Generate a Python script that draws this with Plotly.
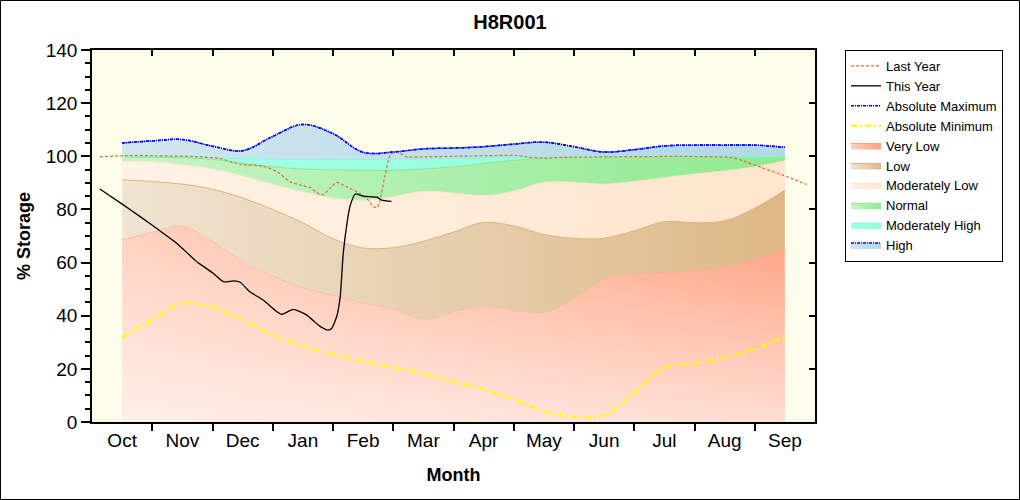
import plotly.graph_objects as go

# ---------------- data ----------------
months = ['Oct', 'Nov', 'Dec', 'Jan', 'Feb', 'Mar', 'Apr', 'May', 'Jun', 'Jul', 'Aug', 'Sep']

# time in months since start of water year (Oct 1 = 0)
band_t = [0.5, 1.0, 1.5, 2.0, 2.5, 3.0, 3.5, 4.0, 4.5, 5.0, 5.5, 6.0,
          6.5, 7.0, 7.5, 8.0, 8.5, 9.0, 9.5, 10.0, 10.5, 11.0, 11.5]

very_low = [68.7, 71.5, 73.8, 68.0, 60.5, 55.0, 50.5, 47.8, 44.8, 42.5, 38.7, 41.5,
            43.7, 42.2, 41.2, 46.5, 54.0, 55.8, 56.4, 56.9, 58.3, 61.5, 65.4]
low = [91.1, 90.5, 89.5, 87.6, 84.3, 80.0, 75.0, 69.0, 65.5, 65.6, 68.0, 71.5,
       75.1, 73.8, 70.6, 69.1, 69.2, 72.0, 75.4, 75.0, 75.7, 80.5, 87.3]
mod_low = [98.2, 98.0, 96.9, 95.3, 92.6, 89.5, 86.7, 84.3, 83.5, 84.8, 86.8, 86.2,
           85.2, 86.8, 90.2, 90.2, 89.5, 90.5, 91.9, 93.3, 94.5, 96.0, 98.3]
normal = [99.8, 99.6, 99.4, 98.9, 97.3, 96.0, 95.2, 94.9, 94.8, 94.7, 95.2, 96.0,
          97.3, 98.5, 99.2, 99.4, 99.5, 99.6, 99.8, 99.8, 99.8, 99.8, 99.8]
mod_high = [100.0, 99.9, 99.8, 99.4, 99.1, 98.9, 98.8, 98.8, 98.8, 98.9, 99.0, 99.2,
            99.4, 99.5, 99.6, 99.7, 99.8, 99.8, 99.9, 99.9, 99.9, 99.9, 99.9]
abs_max = [105.0, 105.8, 106.3, 103.8, 102.1, 107.5, 112.0, 108.5, 101.5, 101.6, 102.8, 103.1,
           103.6, 104.6, 105.3, 103.6, 101.6, 102.5, 103.9, 104.2, 104.2, 104.2, 103.4]
abs_min = [31.9, 38.5, 44.6, 43.2, 38.4, 33.0, 28.5, 25.4, 22.8, 20.6, 18.1, 15.3,
           12.3, 8.6, 4.0, 2.0, 2.6, 11.0, 20.4, 22.1, 24.3, 27.5, 32.1]

this_year_t = [0.13, 0.52, 0.80, 1.07, 1.41, 1.74, 2.01, 2.18, 2.35, 2.46, 2.62, 2.84,
               3.07, 3.15, 3.34, 3.56, 3.78, 3.92, 3.98, 4.06, 4.12, 4.17, 4.24, 4.28,
               4.37, 4.50, 4.73, 4.81, 4.97]
this_year = [87.7, 81.7, 77.3, 72.9, 67.2, 60.3, 56.0, 52.8, 53.1, 52.6, 49.0, 45.9,
             41.5, 40.5, 42.4, 40.3, 36.1, 34.6, 35.3, 39.6, 47.2, 63.5, 76.0, 81.0,
             85.8, 85.0, 84.6, 83.5, 83.0]

last_year_t = [0.13, 0.52, 1.07, 1.79, 2.12, 2.35, 2.57, 2.84, 3.07, 3.29, 3.45, 3.62,
               3.81, 3.95, 4.06, 4.23, 4.39, 4.56, 4.67, 4.74, 4.78, 4.86, 4.95, 5.03,
               5.14, 5.22, 5.56, 6.27, 7.05, 7.27, 7.49, 7.82, 10.59, 10.81, 11.14,
               11.47, 11.86]
last_year = [99.8, 100.2, 100.2, 99.8, 99.2, 97.6, 96.7, 96.3, 94.2, 90.4, 89.2, 88.2,
             85.4, 87.9, 90.2, 88.5, 86.7, 84.2, 81.0, 80.8, 83.5, 92.3, 100.5, 101.7,
             100.8, 99.8, 99.8, 100.1, 100.3, 99.6, 99.3, 99.6, 99.6, 98.3, 95.5,
             92.9, 89.4]

# ---------------- figure ----------------
FONT = 'Liberation Sans, Arial, sans-serif'
fig = go.Figure()

def band(y, name, line_color, c0, c1, rank, fill='tonexty', line=None):
    return go.Scatter(
        x=band_t, y=y, name=name, mode='lines',
        line=line or dict(color=line_color, width=1, shape='spline'),
        fill=fill,
        fillgradient=dict(type='horizontal', colorscale=[[0, c0], [1, c1]]),
        legendrank=rank, hoverinfo='skip')

fig.add_trace(band(very_low, 'Very Low', '#FF9E80', '#FFD2C0', '#FFA080', 5, fill='tozeroy'))
# whitening towards the bottom (diagonal look of the gradient)
fig.add_trace(go.Scatter(
    x=band_t, y=very_low, mode='lines', line=dict(width=0, shape='spline'),
    fill='tozeroy',
    fillgradient=dict(type='vertical', start=0, stop=72,
                      colorscale=[[0, 'rgba(255,255,255,0.65)'], [1, 'rgba(255,255,255,0)']]),
    showlegend=False, hoverinfo='skip'))
fig.add_trace(band(low, 'Low', '#E0B27C', '#F0E4D2', '#DDB886', 6))
fig.add_trace(band(mod_low, 'Moderately Low', '#FFE2C6', '#FFF3E6', '#FFE5CC', 7))
fig.add_trace(band(normal, 'Normal', '#8EE68E', '#C6F5C6', '#90EA90', 8))
fig.add_trace(band(mod_high, 'Moderately High', '#7FFFD4', '#A8FFE6', '#8CFFD8', 9))
fig.add_trace(band(abs_max, 'High', None, '#D0E6EE', '#B0D8E6', 10,
                   line=dict(color='#0000FF', width=1.5, dash='3px,1px,1px,1px', shape='spline')))

# lines (on overlay axes so they sit on top)
fig.add_trace(go.Scatter(x=last_year_t, y=last_year, name='Last Year', mode='lines',
                         line=dict(color='#DC7430', width=1.2, dash='3px,2px', shape='spline', smoothing=0.6),
                         xaxis='x2', yaxis='y2', legendrank=1))
fig.add_trace(go.Scatter(x=this_year_t, y=this_year, name='This Year', mode='lines',
                         line=dict(color='black', width=1.3, shape='spline', smoothing=0.5),
                         xaxis='x2', yaxis='y2', legendrank=2))
fig.add_trace(go.Scatter(x=band_t, y=abs_max, name='Absolute Maximum', mode='lines',
                         line=dict(color='#0000FF', width=1.5, dash='3px,1px,1px,1px', shape='spline'),
                         xaxis='x2', yaxis='y2', legendrank=3))
fig.add_trace(go.Scatter(x=band_t, y=abs_min, name='Absolute Minimum', mode='lines',
                         line=dict(color='#FFFF00', width=2.5, dash='6px,3px,2px,3px', shape='spline'),
                         xaxis='x2', yaxis='y2', legendrank=4))

pw, ph = 723, 372
fig.update_layout(
    width=1020, height=500,
    margin=dict(l=92, r=205, t=50, b=78),
    paper_bgcolor='white', plot_bgcolor='#FDFDEB',
    font=dict(family=FONT, color='black'),
    title=dict(text='<b>H8R001</b>', x=0.5, xanchor='center', y=1 - 22 / 500, yanchor='middle',
               font=dict(size=20, family=FONT)),
    xaxis=dict(range=[0, 12], tickvals=[i + 0.5 for i in range(12)], ticktext=months,
               ticks='', showgrid=False, zeroline=False,
               showline=True, linecolor='black', linewidth=1.5, mirror=True,
               tickfont=dict(size=19),
               minor=dict(tickvals=list(range(1, 12)), ticks='outside', ticklen=7,
                          tickwidth=1.5, tickcolor='black', showgrid=False),
               title=dict(text='<b>Month</b>', font=dict(size=18), standoff=19)),
    yaxis=dict(range=[0, 140], dtick=20, tick0=0, ticks='outside', ticklen=9, tickwidth=1.5,
               tickcolor='black', showgrid=False, zeroline=False,
               showline=True, linecolor='black', linewidth=1.5, mirror=True,
               tickfont=dict(size=19),
               minor=dict(dtick=5, tick0=0, ticks='outside', ticklen=5, tickwidth=1.5,
                          tickcolor='black', showgrid=False),
               title=dict(text='<b>% Storage</b>', font=dict(size=18), standoff=10)),
    xaxis2=dict(overlaying='x', side='top', range=[0, 12], tickvals=list(range(1, 12)),
                ticks='inside', ticklen=6, tickwidth=1.5, tickcolor='black',
                showticklabels=False, showgrid=False, zeroline=False, showline=False),
    yaxis2=dict(overlaying='y', side='right', range=[0, 140], dtick=20, tick0=0,
                ticks='inside', ticklen=6, tickwidth=1.5, tickcolor='black',
                showticklabels=False, showgrid=False, zeroline=False, showline=False),
    legend=dict(x=(845 - 92) / pw, y=1, xanchor='left', yanchor='top',
                bgcolor='white', bordercolor='black', borderwidth=1,
                font=dict(size=13, family=FONT), traceorder='normal', tracegroupgap=0),
    showlegend=True,
    shapes=[dict(type='rect', xref='paper', yref='paper',
                 x0=-91.5 / pw, x1=927.5 / pw, y0=(422 - 499.5) / ph, y1=(422 - 0.5) / ph,
                 line=dict(color='black', width=1), fillcolor='rgba(0,0,0,0)', layer='above')],
)

fig.write_html('out.html', config={'displayModeBar': False},
               post_script="document.body.style.margin='0px';document.body.style.overflow='hidden';")
